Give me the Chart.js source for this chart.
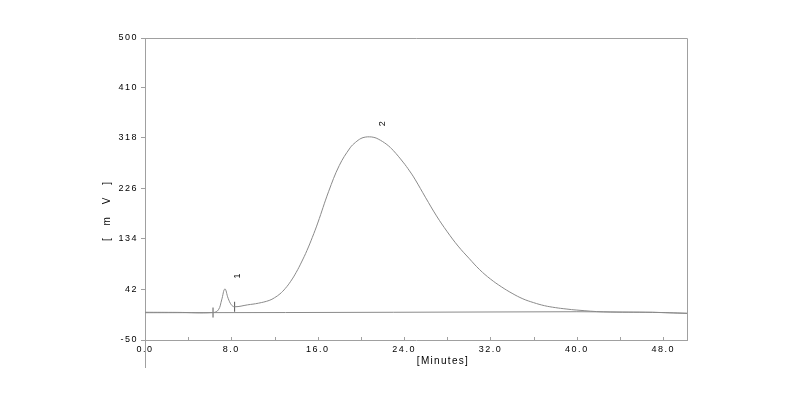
<!DOCTYPE html>
<html>
<head>
<meta charset="utf-8">
<script src="https://cdn.jsdelivr.net/npm/chart.js@4"></script>
<style>
  html, body { margin: 0; padding: 0; background: #fff; }
  #chartContainer { width: 800px; height: 395px; }
</style>
</head>
<body>
<div id="chartContainer"><canvas id="myChart"></canvas></div>
<script>
const signalTime = [0, 3.0, 6.3, 6.8, 7.1, 7.4, 7.7, 8.0, 8.3, 9.5, 10.5, 11.5, 12.0, 12.5, 13.0, 13.5, 14.0, 14.5, 15.0, 15.5, 16.0, 17.0, 18.0, 19.0, 19.5, 20.0, 20.4, 20.8, 21.2, 21.6, 22.4, 23.0, 23.9, 24.5, 25.0, 26.0, 27.0, 28.0, 29.0, 30.0, 31.0, 32.0, 33.0, 34.0, 35.0, 36.0, 37.0, 38.0, 39.0, 40.0, 42.5, 47.0, 50.2];
const signalMv = [0.5, 0.3, 0, 5, 23, 43, 26, 14, 10.5, 14, 17, 22, 27, 34, 44, 57, 73, 92, 113, 137, 163, 220, 268, 300, 310, 317, 319.5, 320, 319, 316, 306, 295, 274, 258, 243, 209, 176, 147, 121, 99, 78, 61, 47, 35, 25, 18, 12.5, 9, 6.5, 4.5, 1.2, 0.4, -1.4];

const baselineTime = [0, 13.0, 23.0, 40.0, 42.5, 47.0, 50.2];
const baselineMv = [-0.3, 0, 0.5, 1.5, 1.2, 0.4, -1.4];

// marcas de integracion (inicio / fin del pico 1)
const markTime = [6.3, 8.3];
const markMv = [0, 10.5];

const peakTimes = [7.4, 20.8];
const peakHeights = [43, 320];
const peakLabels = ['1', '2'];

const xTicks = [0, 8, 16, 24, 32, 40, 48];
const yTicks = [-50, 42, 134, 226, 318, 410, 500];

const axisColor = '#a0a0a0';
const lineColor = '#8a8a8a';

let ctx = document.getElementById('myChart');

// dibuja marco, marcas internas del eje x, etiquetas de picos y titulos
const decorPlugin = {
    id: 'decor',
    beforeDraw(chart) {
        chart.ctx.letterSpacing = '1.5px';
    },
    afterDraw(chart) {
        const c = chart.ctx;
        const a = chart.chartArea;
        const xs = chart.scales.x;
        const ys = chart.scales.y;
        c.save();
        c.strokeStyle = axisColor;
        c.lineWidth = 1;
        c.beginPath();
        c.moveTo(a.left + 0.5, a.bottom);
        c.lineTo(a.left + 0.5, 368);
        c.moveTo(a.left, a.top + 0.5);
        c.lineTo(a.right + 0.5, a.top + 0.5);
        c.lineTo(a.right + 0.5, a.bottom);
        for (let t = 4; t <= 48; t += 4) {
            const px = Math.round(xs.getPixelForValue(t)) + 0.5;
            c.moveTo(px, a.bottom);
            c.lineTo(px, a.bottom - 3);
        }
        c.stroke();

        c.fillStyle = '#000';
        c.font = '9px "Liberation Sans", Arial, sans-serif';
        c.letterSpacing = '0px';
        c.textAlign = 'center';
        c.textBaseline = 'middle';
        for (let i = 0; i < peakLabels.length; i++) {
            const px = xs.getPixelForValue(peakTimes[i]) + 13;
            const py = ys.getPixelForValue(peakHeights[i]) - 13;
            c.save();
            c.translate(px, py);
            c.rotate(-Math.PI / 2);
            c.fillText(peakLabels[i], 0, 0);
            c.restore();
        }

        c.font = '10px "Liberation Sans", Arial, sans-serif';
        c.letterSpacing = '1.3px';
        c.fillText('[Minutes]', 443, 361);
        c.save();
        c.translate(107, 209);
        c.rotate(-Math.PI / 2);
        c.letterSpacing = '5px';
        c.fillText('[ m V ]', 0, 0);
        c.restore();
        c.restore();
    }
};

const chart = new Chart(ctx, {
    type: 'line',
    data: {
        datasets: [{
            label: 'baseline',
            data: baselineTime.map((t, i) => ({x: t, y: baselineMv[i]})),
            borderColor: lineColor,
            borderWidth: 1,
            pointRadius: 0,
            fill: false
        }, {
            label: 'signal',
            data: signalTime.map((t, i) => ({x: t, y: signalMv[i]})),
            borderColor: lineColor,
            borderWidth: 1,
            pointRadius: 0,
            fill: false,
            tension: 0.4
        }, {
            label: 'marks',
            data: markTime.map((t, i) => ({x: t, y: markMv[i]})),
            showLine: false,
            pointStyle: 'line',
            rotation: 90,
            pointRadius: 5,
            borderColor: '#555',
            borderWidth: 1
        }]
    },
    options: {
        responsive: true,
        maintainAspectRatio: false,
        animation: false,
        layout: { padding: { left: 100, right: 113, top: 38, bottom: 0 } },
        plugins: {
            legend: { display: false },
            tooltip: { enabled: false }
        },
        scales: {
            x: {
                type: 'linear',
                min: 0,
                max: 50.2,
                afterBuildTicks: (s) => { s.ticks = xTicks.map(v => ({value: v})); },
                afterFit: (s) => { s.height = 55; },
                grid: { display: false, drawTicks: false, tickLength: 0 },
                border: { display: true, color: axisColor },
                ticks: {
                    padding: 4,
                    maxRotation: 0,
                    autoSkip: false,
                    color: '#000',
                    font: { family: '"Liberation Sans", Arial, sans-serif', size: 9 },
                    callback: (v) => Number(v).toFixed(1)
                }
            },
            y: {
                min: -50,
                max: 500,
                afterBuildTicks: (s) => { s.ticks = yTicks.map(v => ({value: v})); },
                afterFit: (s) => { s.width = 45; },
                grid: { drawOnChartArea: false, drawTicks: true, tickLength: 4, color: axisColor },
                border: { display: true, color: axisColor },
                ticks: {
                    padding: 3,
                    autoSkip: false,
                    color: '#000',
                    font: { family: '"Liberation Sans", Arial, sans-serif', size: 9 }
                }
            }
        }
    },
    plugins: [decorPlugin]
});
</script>
</body>
</html>
